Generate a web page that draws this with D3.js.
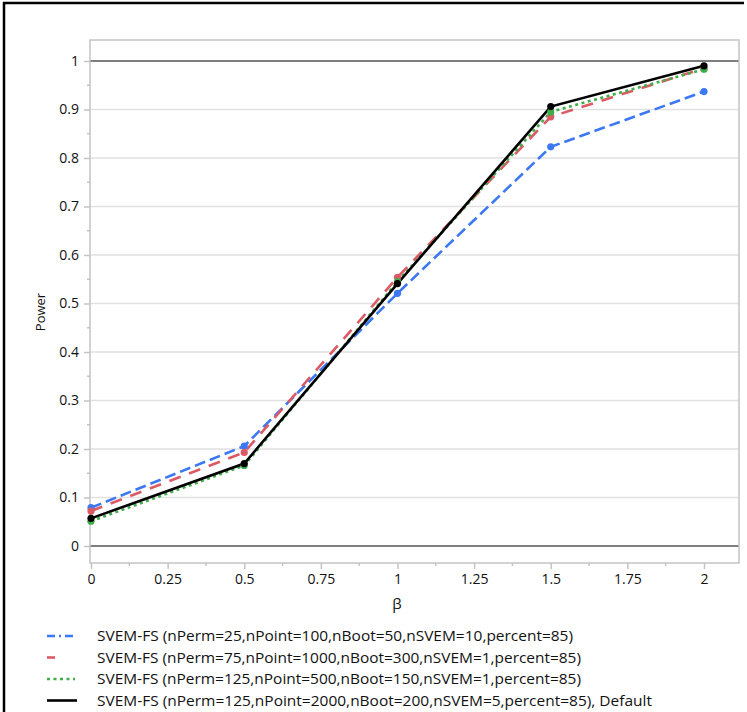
<!DOCTYPE html>
<html>
<head>
<meta charset="utf-8">
<script src="https://cdn.jsdelivr.net/npm/d3@7.9.0/dist/d3.min.js"></script>
<style>
  body { margin: 0; background: #fff; }
  svg { display: block; font-family: "Open Sans", "Noto Sans", sans-serif; }
</style>
</head>
<body>
<svg id="chart" width="747" height="712"></svg>
<script>
// data
const betas = [0, 0.5, 1, 1.5, 2];
const blueVals  = [0.079, 0.206, 0.521, 0.823, 0.937];
const redVals   = [0.072, 0.193, 0.554, 0.885, 0.985];
const greenVals = [0.051, 0.166, 0.545, 0.895, 0.983];
const blackVals = [0.057, 0.170, 0.541, 0.906, 0.990];
const seriesNames = [
  'SVEM-FS (nPerm=25,nPoint=100,nBoot=50,nSVEM=10,percent=85)',
  'SVEM-FS (nPerm=75,nPoint=1000,nBoot=300,nSVEM=1,percent=85)',
  'SVEM-FS (nPerm=125,nPoint=500,nBoot=150,nSVEM=1,percent=85)',
  'SVEM-FS (nPerm=125,nPoint=2000,nBoot=200,nSVEM=5,percent=85), Default'
];
const xTicks = [0, 0.25, 0.5, 0.75, 1, 1.25, 1.5, 1.75, 2];
const xTickLabels = ['0', '0.25', '0.5', '0.75', '1', '1.25', '1.5', '1.75', '2'];
const yTicks = [0, 0.1, 0.2, 0.3, 0.4, 0.5, 0.6, 0.7, 0.8, 0.9, 1];
const yTickLabels = ['0', '0.1', '0.2', '0.3', '0.4', '0.5', '0.6', '0.7', '0.8', '0.9', '1'];

const series = [
  { vals: blueVals,  color: '#3b78f2', dash: '11,5',  legDash: '8,4,2,4', legLen: 27, textLen: 476 },
  { vals: redVals,   color: '#dc5a64', dash: '12,9',  legDash: null, legLen: 8, textLen: 484 },
  { vals: greenVals, color: '#3fae49', dash: '3,3.5', legDash: '3,3.5', legLen: 28, textLen: 484 },
  { vals: blackVals, color: '#000000', dash: null,    legDash: null, legLen: 30, textLen: 555 }
];

const svg = d3.select('#chart');
const frame = { left: 90, right: 739, top: 40, bottom: 563 };

// x: 0 -> 91, 2 -> 704 ; y: 0 -> 546, 1 -> 61
const x = d3.scaleLinear().domain([0, 2]).range([91, 704]);
const y = d3.scaleLinear().domain([0, 1]).range([546, 61]);

// outer border (top & left only, picture is cropped)
svg.append('line').attr('x1', 3).attr('x2', 744).attr('y1', 3).attr('y2', 3)
  .attr('stroke', '#000').attr('stroke-width', 2.5);
svg.append('line').attr('x1', 4).attr('x2', 4).attr('y1', 2).attr('y2', 712)
  .attr('stroke', '#000').attr('stroke-width', 2.5);

// gridlines
svg.append('g').selectAll('line')
  .data(yTicks.filter(d => d > 0 && d < 1))
  .join('line')
  .attr('x1', frame.left).attr('x2', frame.right)
  .attr('y1', d => y(d)).attr('y2', d => y(d))
  .attr('stroke', '#e1e1e1').attr('stroke-width', 1.5);

// reference lines at 0 and 1
svg.append('g').selectAll('line')
  .data([0, 1])
  .join('line')
  .attr('x1', frame.left).attr('x2', frame.right)
  .attr('y1', d => y(d)).attr('y2', d => y(d))
  .attr('stroke', '#555').attr('stroke-width', 1.6);

// plot frame
svg.append('rect')
  .attr('x', frame.left).attr('y', frame.top)
  .attr('width', frame.right - frame.left).attr('height', frame.bottom - frame.top)
  .attr('fill', 'none').attr('stroke', '#c4c4c4').attr('stroke-width', 1.5);

// y axis
const yAxis = d3.axisLeft(y)
  .tickValues(yTicks)
  .tickFormat((d, i) => yTickLabels[i])
  .tickSize(6).tickPadding(5);
const gy = svg.append('g').attr('transform', `translate(${frame.left},0)`).call(yAxis);
gy.select('.domain').remove();
gy.selectAll('.tick line').attr('stroke', '#c4c4c4').attr('stroke-width', 1.5);
gy.selectAll('.tick text').attr('font-size', 14).attr('fill', '#111')
  .attr('font-family', '"Open Sans", sans-serif');
// y minor ticks
svg.append('g').selectAll('line')
  .data(d3.range(0.05, 1.05, 0.1))
  .join('line')
  .attr('x1', frame.left - 3).attr('x2', frame.left)
  .attr('y1', d => y(d)).attr('y2', d => y(d))
  .attr('stroke', '#c4c4c4').attr('stroke-width', 1.5);

// x axis
const xAxis = d3.axisBottom(x)
  .tickValues(xTicks)
  .tickFormat((d, i) => xTickLabels[i])
  .tickSize(6).tickPadding(5);
const gx = svg.append('g').attr('transform', `translate(0,${frame.bottom})`).call(xAxis);
gx.select('.domain').remove();
gx.selectAll('.tick line').attr('stroke', '#c4c4c4').attr('stroke-width', 1.5);
gx.selectAll('.tick text').attr('font-size', 14).attr('fill', '#111')
  .attr('font-family', '"Open Sans", sans-serif');
// x minor ticks
svg.append('g').selectAll('line')
  .data(d3.range(0.125, 2.1, 0.25))
  .join('line')
  .attr('x1', d => x(d)).attr('x2', d => x(d))
  .attr('y1', frame.bottom).attr('y2', frame.bottom + 3)
  .attr('stroke', '#c4c4c4').attr('stroke-width', 1.5);

// axis titles
svg.append('text')
  .attr('transform', 'translate(45,312) rotate(-90)')
  .attr('text-anchor', 'middle')
  .attr('font-size', 13).attr('fill', '#111')
  .text('Power');
svg.append('text')
  .attr('x', 397).attr('y', 609)
  .attr('text-anchor', 'middle')
  .attr('font-size', 15).attr('fill', '#111')
  .text('β');

// lines + markers
const line = d3.line().x((d, i) => x(betas[i])).y(d => y(d));
const plot = svg.append('g');
series.forEach(s => {
  plot.append('path')
    .datum(s.vals)
    .attr('d', line)
    .attr('fill', 'none')
    .attr('stroke', s.color)
    .attr('stroke-width', 2.6)
    .attr('stroke-dasharray', s.dash);
});
series.forEach(s => {
  plot.append('g').selectAll('circle')
    .data(s.vals)
    .join('circle')
    .attr('cx', (d, i) => x(betas[i]))
    .attr('cy', d => y(d))
    .attr('r', 3.6)
    .attr('fill', s.color);
});

// legend
const legY = [636, 657.5, 679, 700.5];
const legend = svg.append('g');
series.forEach((s, i) => {
  legend.append('line')
    .attr('x1', 47).attr('x2', 47 + s.legLen)
    .attr('y1', legY[i]).attr('y2', legY[i])
    .attr('stroke', s.color).attr('stroke-width', 2.6)
    .attr('stroke-dasharray', s.legDash);
  legend.append('text')
    .attr('x', 97).attr('y', legY[i] + 5)
    .attr('font-size', 14).attr('fill', '#111')
    .attr('textLength', s.textLen)
    .attr('lengthAdjust', 'spacingAndGlyphs')
    .text(seriesNames[i]);
});
</script>
</body>
</html>
